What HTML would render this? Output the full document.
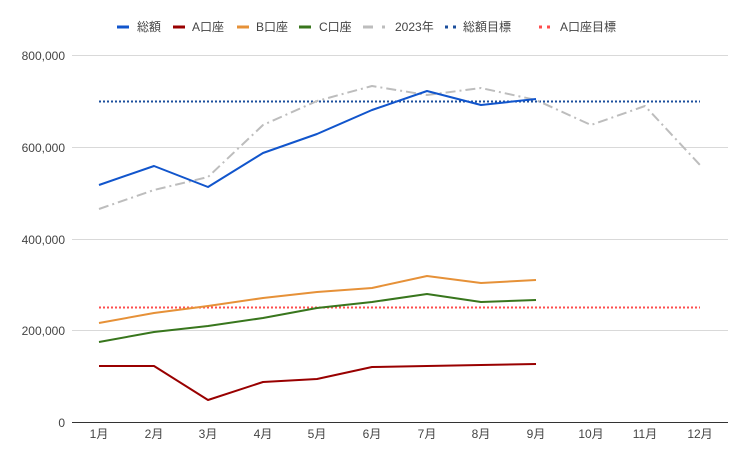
<!DOCTYPE html>
<html><head><meta charset="utf-8"><style>body{margin:0;background:#fff}svg{display:block}text{font-family:"Liberation Sans","Noto Sans CJK JP",sans-serif;font-size:12px;fill:#444}</style></head><body>
<svg width="750" height="460" xmlns="http://www.w3.org/2000/svg">
<rect width="750" height="460" fill="#fff"/>
<g stroke="#d9d9d9" stroke-width="1">
<line x1="72" y1="55.5" x2="728" y2="55.5"/><line x1="72" y1="147.5" x2="728" y2="147.5"/><line x1="72" y1="239.5" x2="728" y2="239.5"/><line x1="72" y1="330.5" x2="728" y2="330.5"/>
</g>
<line x1="72" y1="422.5" x2="728" y2="422.5" stroke="#333" stroke-width="1"/>
<g text-anchor="end">
<text x="65" y="60">800,000</text><text x="65" y="152">600,000</text><text x="65" y="244">400,000</text><text x="65" y="335">200,000</text><text x="65" y="427">0</text>
</g>
<g text-anchor="middle">
<text x="99" y="438">1月</text><text x="154" y="438">2月</text><text x="208" y="438">3月</text><text x="263" y="438">4月</text><text x="317" y="438">5月</text><text x="372" y="438">6月</text><text x="427" y="438">7月</text><text x="481" y="438">8月</text><text x="536" y="438">9月</text><text x="591" y="438">10月</text><text x="645" y="438">11月</text><text x="700" y="438">12月</text>
</g>
<line x1="99" y1="101.5" x2="700" y2="101.5" stroke="#1c4f9c" stroke-width="2" stroke-dasharray="2,2"/>
<line x1="99" y1="307.5" x2="700" y2="307.5" stroke="#ff4d4d" stroke-width="2" stroke-dasharray="2,2"/>
<g fill="none" stroke-width="2" stroke-linejoin="round">
<polyline stroke="#bdbdbd" stroke-dasharray="10,4,2,4" points="99,209 154,190 208,177 263,125 317,101 372,86 427,95 481,88 536,100 591,125 645,106 700,165"/>
<polyline stroke="#38761d" points="99,342 154,332 208,326 263,318 317,308 372,302 427,294 481,302 536,300"/>
<polyline stroke="#e69138" points="99,323 154,313 208,306 263,298 317,292 372,288 427,276 481,283 536,280"/>
<polyline stroke="#990000" points="99,366 154,366 208,400 263,382 317,379 372,367 427,366 481,365 536,364"/>
<polyline stroke="#1155cc" points="99,185 154,166 208,187 263,153 317,134 372,110 427,91 481,105 536,99"/>
</g>
<g stroke-width="3">
<line x1="117" y1="27" x2="129" y2="27" stroke="#1155cc"/>
<line x1="173" y1="27" x2="185" y2="27" stroke="#990000"/>
<line x1="237" y1="27" x2="249" y2="27" stroke="#e69138"/>
<line x1="299" y1="27" x2="311" y2="27" stroke="#38761d"/>
<line x1="363" y1="27" x2="373" y2="27" stroke="#bdbdbd"/><line x1="382" y1="27" x2="385" y2="27" stroke="#bdbdbd"/>
<line x1="445" y1="27" x2="456" y2="27" stroke="#1c4f9c" stroke-dasharray="3,5"/>
<line x1="539" y1="27" x2="550" y2="27" stroke="#ff4d4d" stroke-dasharray="3,5"/>
</g>
<text x="137" y="31">総額</text><text x="192" y="31">A口座</text><text x="256" y="31">B口座</text><text x="319" y="31">C口座</text><text x="395" y="31">2023年</text><text x="463" y="31">総額目標</text><text x="560" y="31">A口座目標</text>
</svg>
</body></html>
